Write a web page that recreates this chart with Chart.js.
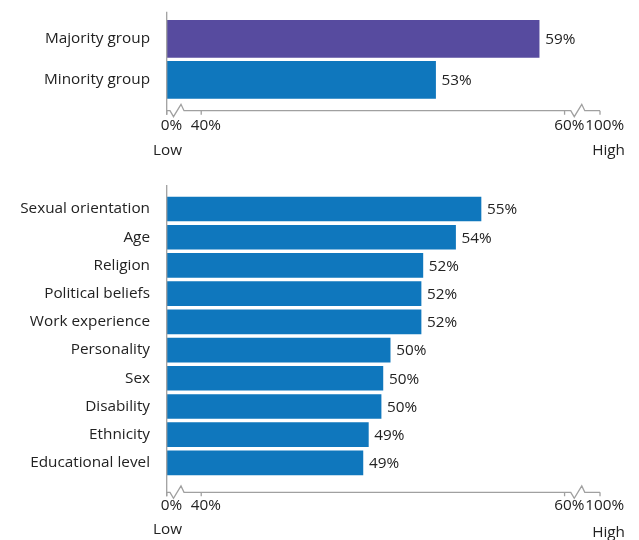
<!DOCTYPE html>
<html>
<head>
<meta charset="utf-8">
<script src="https://cdn.jsdelivr.net/npm/chart.js@4/dist/chart.umd.min.js"></script>
<style>
  body { margin: 0; background: #fff; }
  #wrap { position: relative; width: 639px; height: 540px; overflow: hidden; }
  canvas { position: absolute; left: 0; }
</style>
</head>
<body>
<div id="wrap">
  <canvas id="topChart" width="639" height="160" style="top:0"></canvas>
  <canvas id="bottomChart" width="639" height="370" style="top:170px"></canvas>
</div>
<script>
// données
var groupLabels = ['Majority group', 'Minority group'];
var groupValues = [58.6, 52.9];
var groupColors = ['#574B9F', '#0F77BD'];

var groundLabels = ['Sexual orientation', 'Age', 'Religion', 'Political beliefs', 'Work experience',
                    'Personality', 'Sex', 'Disability', 'Ethnicity', 'Educational level'];
var groundValues = [55.4, 54.0, 52.2, 52.1, 52.1, 50.4, 50.0, 49.9, 49.2, 48.9];

// axe coupé : 0% et 100% aux bords, 40% -> 60% au milieu
var xTickValues = [38.1, 40, 60, 61.95];
var xTickLabels = ['0%', '40%', '60%', '100%'];
var axisEnds = ['Low', 'High'];

var FONT = '"Open Sans", "Noto Sans", sans-serif';
var FSIZE = 15.3;
var TEXT = '#222';
var AXIS = '#a0a0a0';

// étiquettes de valeur au bout des barres
var valueLabels = {
    id: 'valueLabels',
    afterDatasetsDraw: function (chart) {
        var ctx = chart.ctx;
        var meta = chart.getDatasetMeta(0);
        var data = chart.data.datasets[0].data;
        ctx.save();
        ctx.font = FSIZE + 'px ' + FONT;
        ctx.fillStyle = TEXT;
        ctx.textAlign = 'left';
        ctx.textBaseline = 'middle';
        meta.data.forEach(function (bar, i) {
            ctx.fillText(Math.round(data[i]) + '%', bar.x + 6, bar.y + 1);
        });
        ctx.restore();
    }
};

// axes dessinés à la main (ligne verticale, ligne brisée, petits traits, Low / High)
var brokenAxis = {
    id: 'brokenAxis',
    afterDraw: function (chart, args, o) {
        var ctx = chart.ctx, area = chart.chartArea, xs = chart.scales.x;
        var y = o.axisY;
        ctx.save();
        ctx.strokeStyle = AXIS;
        ctx.lineWidth = 1.3;
        ctx.beginPath();
        ctx.moveTo(area.left, o.lineTop);
        ctx.lineTo(area.left, y + 4);
        ctx.stroke();

        var z1 = area.left + 3.3;
        var z2 = xs.getPixelForValue(60) + 6.2;
        ctx.beginPath();
        ctx.moveTo(area.left, y);
        [z1, z2].forEach(function (z) {
            ctx.lineTo(z, y);
            ctx.lineTo(z + 3.5, y + 6);
            ctx.lineTo(z + 11, y - 6.4);
            ctx.lineTo(z + 14, y);
        });
        ctx.lineTo(area.right, y);
        ctx.stroke();

        ctx.beginPath();
        xs.ticks.forEach(function (t, i) {
            var px = xs.getPixelForTick(i);
            ctx.moveTo(px, y);
            ctx.lineTo(px, y + 4);
        });
        ctx.stroke();

        ctx.font = FSIZE + 'px ' + FONT;
        ctx.fillStyle = TEXT;
        ctx.textBaseline = 'middle';
        ctx.textAlign = 'left';
        ctx.fillText(axisEnds[0], area.left - 13.7, y + o.lowDy);
        ctx.textAlign = 'right';
        ctx.fillText(axisEnds[1], area.right + 25, y + o.highDy);
        ctx.restore();
    }
};

function makeChart(id, labels, values, colors, p) {
    var canvas = document.getElementById(id);
    if (!canvas) return;
    return new Chart(canvas.getContext('2d'), {
        type: 'bar',
        data: {
            labels: labels,
            datasets: [{ data: values, backgroundColor: colors, barThickness: p.bar, borderWidth: 0 }]
        },
        options: {
            indexAxis: 'y',
            responsive: false,
            animation: false,
            layout: { padding: { top: p.top, right: 39, bottom: 0, left: 0 } },
            plugins: {
                legend: { display: false },
                tooltip: { enabled: false },
                brokenAxis: { axisY: p.axisY, lineTop: p.lineTop, lowDy: p.lowDy, highDy: p.highDy }
            },
            scales: {
                x: {
                    type: 'linear',
                    min: xTickValues[0],
                    max: xTickValues[xTickValues.length - 1],
                    grid: { display: false, drawTicks: false },
                    border: { display: false },
                    afterBuildTicks: function (scale) {
                        scale.ticks = xTickValues.map(function (v) { return { value: v }; });
                    },
                    afterFit: function (scale) {
                        scale.height = p.xHeight;
                        scale.paddingLeft = 0;
                        scale.paddingRight = 0;
                    },
                    ticks: {
                        autoSkip: false,
                        maxRotation: 0,
                        padding: p.tickPad,
                        labelOffset: 4.7,
                        color: TEXT,
                        font: { family: FONT, size: FSIZE },
                        callback: function (v, i) { return xTickLabels[i]; }
                    }
                },
                y: {
                    grid: { display: false, drawTicks: false },
                    border: { display: false },
                    afterFit: function (scale) {
                        scale.width = 166.7;
                        scale.paddingTop = 0;
                        scale.paddingBottom = 0;
                    },
                    ticks: { padding: 16.7, color: TEXT, font: { family: FONT, size: FSIZE } }
                }
            }
        },
        plugins: [valueLabels, brokenAxis]
    });
}

window.addEventListener('load', function () {
    makeChart('topChart', groupLabels, groupValues, groupColors,
        { bar: 37, top: 18.4, xHeight: 59.6, tickPad: 15.6, axisY: 110.7, lineTop: 11.7, lowDy: 39.5, highDy: 39.5 });
    makeChart('bottomChart', groundLabels, groundValues, '#0F77BD',
        { bar: 24, top: 24.9, xHeight: 63, tickPad: 19, axisY: 322.3, lineTop: 15, lowDy: 37.7, highDy: 40.7 });
});
</script>
</body>
</html>
